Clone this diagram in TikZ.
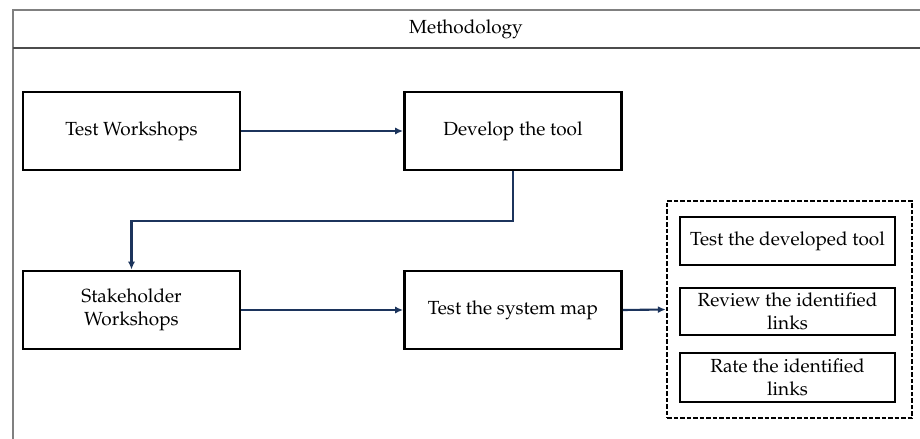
\documentclass[tikz,border=0pt]{standalone}
\usepackage[T1]{fontenc}
\usepackage{mathpazo}
\usepackage{tikz}
\usetikzlibrary{arrows.meta}

\definecolor{linkblue}{RGB}{28,52,92}

\begin{document}
\begin{tikzpicture}[x=0.02cm, y=-0.02cm,
  every node/.style={font=\fontsize{10.8}{13}\selectfont},
  stepbox/.style={draw, line width=1.6pt, minimum width=4.34cm, minimum height=1.56cm, align=center, inner sep=0pt},
  taskbox/.style={draw, line width=1.6pt, minimum width=4.3cm, align=center, inner sep=0pt},
  link/.style={-{Latex[length=4.5pt,width=4pt]}, draw=linkblue, line width=1.2pt}]
  \useasboundingbox (0,0) rectangle (920,439);

  % Frame
  \draw[black!50, line width=1.2pt] (13,439) -- (13,10) -- (920,10);
  \draw[black!70, line width=1.2pt] (13,48) -- (920,48);
  \node (title) at (466,29) {Methodology};

  % First row
  \node[stepbox] (tw) at (131.5,131) {Test Workshops};
  \node[stepbox] (dev) at (513,131) {Develop the tool};

  % Second row
  \node[stepbox] (stake) at (131.5,310) {Stakeholder\\Workshops};
  \node[stepbox] (sysmap) at (513,310) {Test the system map};

  % Tasks
  \node[draw, line width=1.5pt, dash pattern=on 2.6pt off 1.1pt, minimum width=4.9cm, minimum height=4.34cm] (group) at (789.5,309.5) {};
  \node[taskbox, minimum height=0.96cm] (devtool) at (787.5,241) {Test the developed tool};
  \node[taskbox, minimum height=0.94cm] (review) at (787.5,311.5) {Review the identified\\links};
  \node[taskbox, minimum height=0.98cm] (rate) at (787.5,377.5) {Rate the identified\\links};

  % Links
  \draw[link] (tw) -- (dev);
  \draw[link] (dev.south) -- ++(0,50) -| (stake.north);
  \draw[link] (stake) -- (sysmap);
  \draw[link] (sysmap.east) -- (group.west);
\end{tikzpicture}
\end{document}
